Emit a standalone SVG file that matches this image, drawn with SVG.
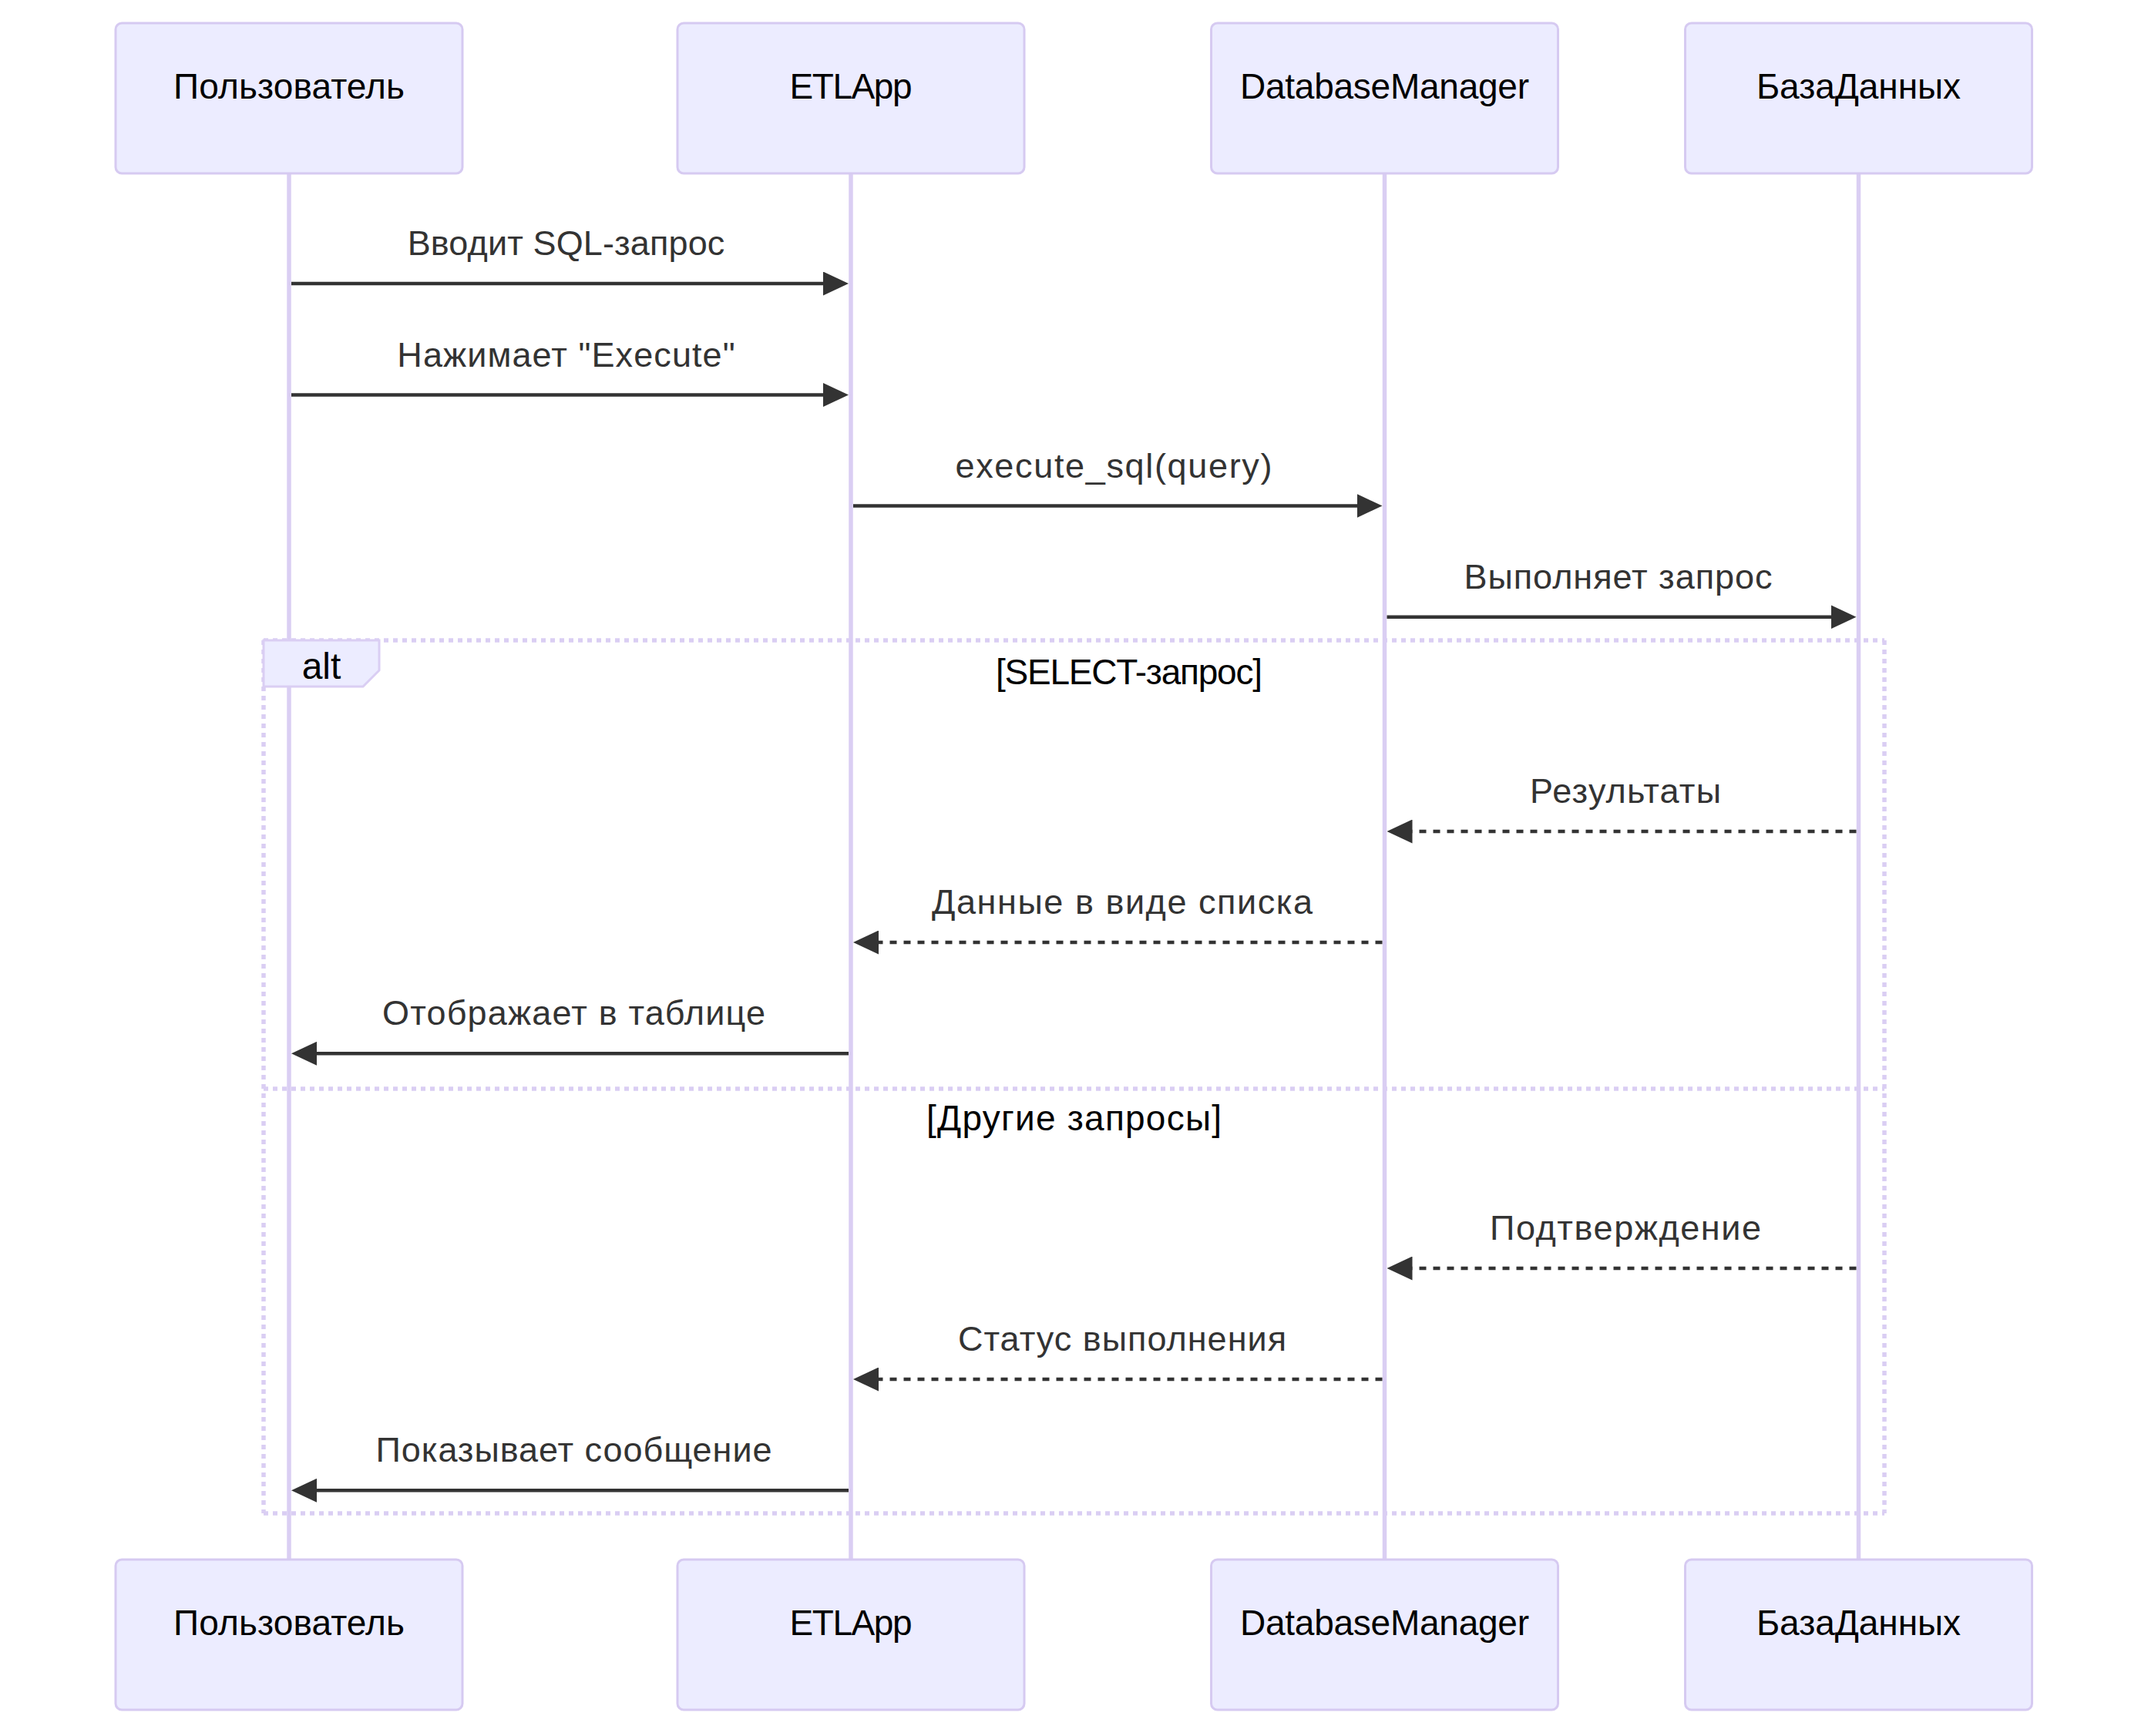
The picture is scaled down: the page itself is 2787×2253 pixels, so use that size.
<svg xmlns="http://www.w3.org/2000/svg" width="2787" height="2253" viewBox="0 0 2787 2253">
<style>
.bg{fill:#ffffff}
.actor rect{fill:#ECECFF;stroke:#d6caf1;stroke-width:3}
.actor text{font-family:"Liberation Sans",Arial,sans-serif;font-size:46px;fill:#000000;text-anchor:middle}
.life{stroke:#dacef3;stroke-width:5.5}
.msg{stroke:#333333;stroke-width:4.5;fill:none}
.dash{stroke-dasharray:9 9}
.mt{font-family:"Liberation Sans",Arial,sans-serif;font-size:45px;fill:#333333;text-anchor:middle}
.loop{stroke:#dacef3;stroke-width:5.5;stroke-dasharray:6 6;fill:none}
.lbl{fill:#ECECFF;stroke:#dacef3;stroke-width:3}
.lt{font-family:"Liberation Sans",Arial,sans-serif;font-size:46px;fill:#000000;text-anchor:middle}
</style>
<defs>
<marker id="ah" markerUnits="userSpaceOnUse" markerWidth="33" markerHeight="31" viewBox="0 0 33 31" refX="25" refY="15.5" orient="auto">
<path d="M0,0L33,15.5L0,31z" fill="#333333"/>
</marker>
</defs>
<rect class="bg" x="0" y="0" width="2787" height="2253"/>

<g id="lifelines">
<line class="life" x1="375" y1="225" x2="375" y2="2024"/>
<line class="life" x1="1104" y1="225" x2="1104" y2="2024"/>
<line class="life" x1="1796.5" y1="225" x2="1796.5" y2="2024"/>
<line class="life" x1="2411.5" y1="225" x2="2411.5" y2="2024"/>
</g>

<g id="alt-frame">
<line class="loop" x1="342" y1="831" x2="2445" y2="831"/>
<line class="loop" x1="2445" y1="831" x2="2445" y2="1964"/>
<line class="loop" x1="342" y1="1964" x2="2445" y2="1964"/>
<line class="loop" x1="342" y1="831" x2="342" y2="1964"/>
<line class="loop" x1="342" y1="1413" x2="2445" y2="1413"/>
<polygon class="lbl" points="342,831 492,831 492,870 471,891 342,891"/>
<text class="lt" x="417" y="881" style="font-size:48px">alt</text>
<text class="lt" x="1465" y="888" textLength="346">[SELECT-запрос]</text>
<text class="lt" x="1393.5" y="1467" textLength="383">[Другие запросы]</text>
</g>

<g id="actor-user-top" class="actor">
<rect x="150" y="30" width="450" height="195" rx="8" ry="8"/>
<text x="375" y="127.5" textLength="300">Пользователь</text>
</g>
<g id="actor-etl-top" class="actor">
<rect x="879" y="30" width="450" height="195" rx="8" ry="8"/>
<text x="1104" y="127.5" textLength="159">ETLApp</text>
</g>
<g id="actor-dbm-top" class="actor">
<rect x="1571.5" y="30" width="450" height="195" rx="8" ry="8"/>
<text x="1796.5" y="127.5" textLength="375">DatabaseManager</text>
</g>
<g id="actor-db-top" class="actor">
<rect x="2186.5" y="30" width="450" height="195" rx="8" ry="8"/>
<text x="2411.5" y="127.5" textLength="265">БазаДанных</text>
</g>

<g id="actor-user-bottom" class="actor">
<rect x="150" y="2024" width="450" height="195" rx="8" ry="8"/>
<text x="375" y="2121.5" textLength="300">Пользователь</text>
</g>
<g id="actor-etl-bottom" class="actor">
<rect x="879" y="2024" width="450" height="195" rx="8" ry="8"/>
<text x="1104" y="2121.5" textLength="159">ETLApp</text>
</g>
<g id="actor-dbm-bottom" class="actor">
<rect x="1571.5" y="2024" width="450" height="195" rx="8" ry="8"/>
<text x="1796.5" y="2121.5" textLength="375">DatabaseManager</text>
</g>
<g id="actor-db-bottom" class="actor">
<rect x="2186.5" y="2024" width="450" height="195" rx="8" ry="8"/>
<text x="2411.5" y="2121.5" textLength="265">БазаДанных</text>
</g>

<g id="connectors">
<line class="msg" x1="378" y1="368" x2="1093" y2="368" marker-end="url(#ah)"/>
<line class="msg" x1="378" y1="512.5" x2="1093" y2="512.5" marker-end="url(#ah)"/>
<line class="msg" x1="1107" y1="656.5" x2="1785.5" y2="656.5" marker-end="url(#ah)"/>
<line class="msg" x1="1799.5" y1="800.7" x2="2400.5" y2="800.7" marker-end="url(#ah)"/>
<line class="msg dash" x1="2408.5" y1="1079" x2="1807.5" y2="1079" marker-end="url(#ah)"/>
<line class="msg dash" x1="1793.5" y1="1223" x2="1115" y2="1223" marker-end="url(#ah)"/>
<line class="msg" x1="1101" y1="1367.3" x2="386" y2="1367.3" marker-end="url(#ah)"/>
<line class="msg dash" x1="2408.5" y1="1646" x2="1807.5" y2="1646" marker-end="url(#ah)"/>
<line class="msg dash" x1="1793.5" y1="1790" x2="1115" y2="1790" marker-end="url(#ah)"/>
<line class="msg" x1="1101" y1="1934.3" x2="386" y2="1934.3" marker-end="url(#ah)"/>
</g>

<g id="message-labels">
<text class="mt" x="734.5" y="331" textLength="411.6">Вводит SQL-запрос</text>
<text class="mt" x="734.5" y="475.5" textLength="438.4">Нажимает "Execute"</text>
<text class="mt" x="1445" y="619.5" textLength="411">execute_sql(query)</text>
<text class="mt" x="2099.5" y="763.7" textLength="400">Выполняет запрос</text>
<text class="mt" x="2109" y="1042" textLength="248">Результаты</text>
<text class="mt" x="1456" y="1186" textLength="494">Данные в виде списка</text>
<text class="mt" x="744.5" y="1330.3" textLength="497">Отображает в таблице</text>
<text class="mt" x="2109" y="1609" textLength="352">Подтверждение</text>
<text class="mt" x="1456" y="1753" textLength="426">Статус выполнения</text>
<text class="mt" x="744.5" y="1897.3" textLength="514">Показывает сообщение</text>
</g>
</svg>
